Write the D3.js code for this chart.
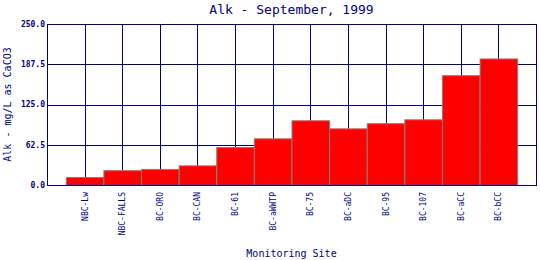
<!DOCTYPE html>
<html>
<head>
<meta charset="utf-8">
<script src="https://cdn.jsdelivr.net/npm/d3@7"></script>
<style>
  body { margin: 0; background: #fff; }
  text { font-family: "DejaVu Sans Mono", monospace; fill: #000080; }
</style>
</head>
<body>
<div id="chart"></div>
<script>
const sites = ["NBC-Lw", "NBC-FALLS", "BC-ORO", "BC-CAN", "BC-61", "BC-aWWTP",
               "BC-75", "BC-aDC", "BC-95", "BC-107", "BC-aCC", "BC-bCC"];
const alk = [12.5, 23, 25, 30.5, 59, 72.5, 100.5, 88, 96, 102, 170.5, 196.5];
const yTicks = [0, 62.5, 125, 187.5, 250];

const W = 540, H = 260;
const margin = { top: 24, right: 4, bottom: 75, left: 47 };
const width = W - margin.left - margin.right;
const height = H - margin.top - margin.bottom;
const navy = "#000080";

const svg = d3.select("#chart")
    .append("svg")
    .attr("width", W)
    .attr("height", H);

// Title
svg.append("text")
    .attr("x", margin.left + width / 2)
    .attr("y", 14)
    .attr("text-anchor", "middle")
    .attr("font-size", "13px")
    .text("Alk - September, 1999");

const g = svg.append("g")
    .attr("transform", `translate(${margin.left},${margin.top})`);

const x = d3.scaleBand()
    .domain(sites)
    .range([0, width])
    .paddingInner(0)
    .paddingOuter(0.5);

const y = d3.scaleLinear()
    .domain([0, 250])
    .range([height, 0]);

// Grid lines
g.selectAll(".vgrid")
    .data(sites)
    .enter()
    .append("line")
    .attr("x1", d => Math.round(x(d) + x.bandwidth() / 2) + 0.5)
    .attr("x2", d => Math.round(x(d) + x.bandwidth() / 2) + 0.5)
    .attr("y1", 0)
    .attr("y2", height)
    .attr("stroke", navy)
    .attr("stroke-width", 1);

g.selectAll(".hgrid")
    .data(yTicks)
    .enter()
    .append("line")
    .attr("x1", 0)
    .attr("x2", width)
    .attr("y1", d => Math.round(y(d)) + 0.5)
    .attr("y2", d => Math.round(y(d)) + 0.5)
    .attr("stroke", navy)
    .attr("stroke-width", 1);

// Bars
g.selectAll(".bar")
    .data(alk)
    .enter()
    .append("rect")
    .attr("x", (d, i) => x(sites[i]) + 0.5)
    .attr("y", d => y(d) + 0.5)
    .attr("width", x.bandwidth())
    .attr("height", d => height - y(d))
    .attr("fill", "#ff0000")
    .attr("stroke", "#808080")
    .attr("stroke-width", 1);

// Frame
g.append("rect")
    .attr("x", 0.5)
    .attr("y", 0.5)
    .attr("width", width)
    .attr("height", height)
    .attr("fill", "none")
    .attr("stroke", navy)
    .attr("stroke-width", 1);

// Y tick labels
g.selectAll(".ytick")
    .data(yTicks)
    .enter()
    .append("text")
    .attr("x", -2)
    .attr("y", d => y(d))
    .attr("dy", "0.35em")
    .attr("text-anchor", "end")
    .attr("font-size", "8px")
    .attr("font-weight", "bold")
    .text(d => d.toFixed(1));

// X tick labels
g.selectAll(".xtick")
    .data(sites)
    .enter()
    .append("text")
    .attr("transform", d => `translate(${x(d) + x.bandwidth() / 2 + 3},${height + 7}) rotate(-90)`)
    .attr("text-anchor", "end")
    .attr("font-size", "8px")
    .text(d => d);

// Axis titles
svg.append("text")
    .attr("x", margin.left + width / 2)
    .attr("y", 257)
    .attr("text-anchor", "middle")
    .attr("font-size", "10px")
    .text("Monitoring Site");

svg.append("text")
    .attr("transform", `translate(11,${margin.top + height / 2}) rotate(-90)`)
    .attr("text-anchor", "middle")
    .attr("font-size", "10px")
    .text("Alk - mg/L as CaCO3");
</script>
</body>
</html>
